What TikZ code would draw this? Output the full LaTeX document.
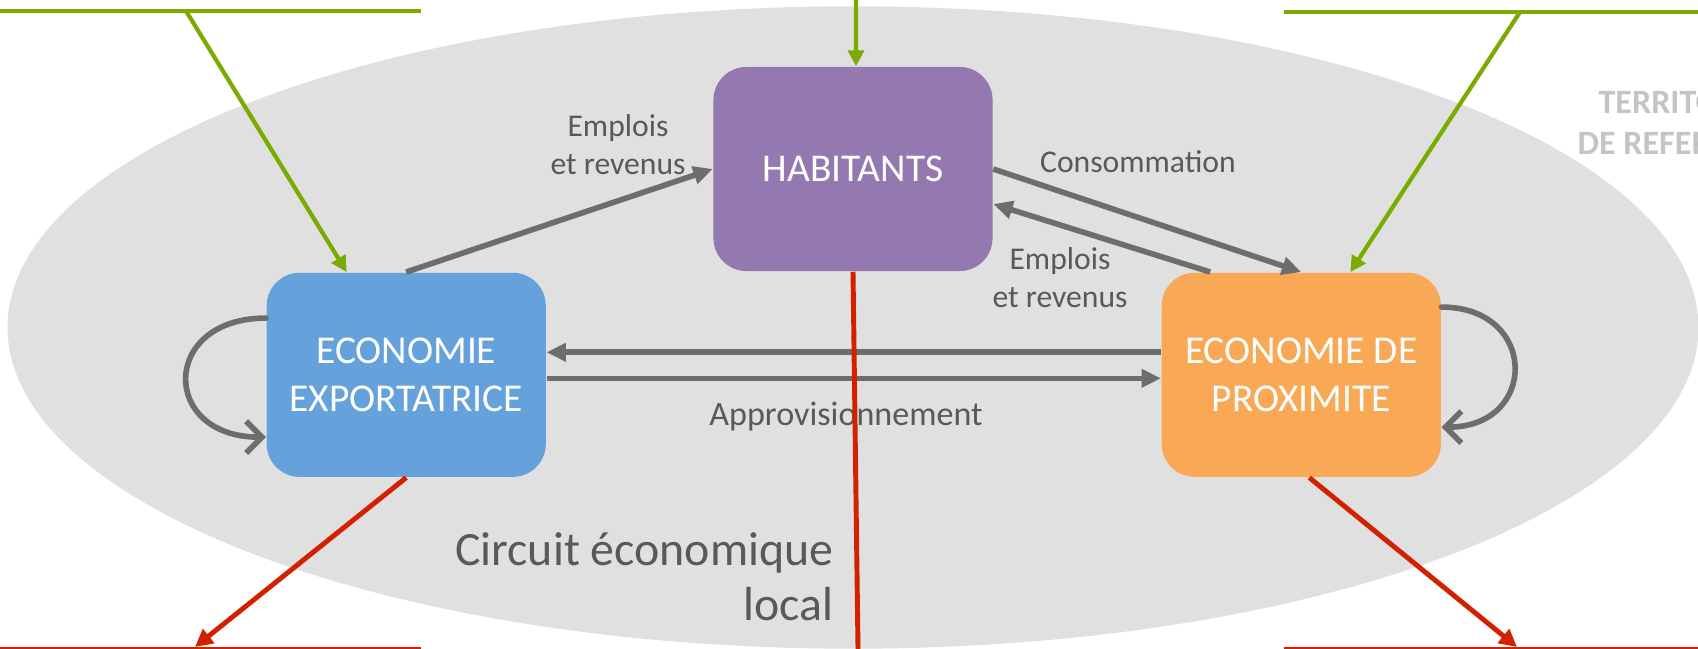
\documentclass[tikz,border=0pt]{standalone}
\usepackage{fontspec}
\setmainfont{Carlito}
\usetikzlibrary{arrows.meta,positioning}
\definecolor{cgray}{HTML}{6D6D6D}
\definecolor{ctext}{HTML}{595959}
\definecolor{cgreen}{HTML}{7AAB00}
\definecolor{cred}{HTML}{D22000}
\definecolor{cpurple}{HTML}{9479B0}
\definecolor{cblue}{HTML}{65A2DC}
\definecolor{corange}{HTML}{F9A856}
\definecolor{cbg}{HTML}{E0E0E0}
\definecolor{cterr}{HTML}{C4C4C4}

\begin{document}
\begin{tikzpicture}[x=0.01cm,y=-0.01cm,on grid,
  box/.style={rounded corners=0.33cm,minimum width=2.79cm,minimum height=2.04cm,
    text=white,align=center,font=\fontsize{11.2}{13.4}\selectfont},
  flow/.style={-{Triangle[length=5.5pt,width=5pt]},cgray,line width=1.6pt},
  loop flow/.style={-{Straight Barb[length=4.5pt,width=9pt]},cgray,line width=1.6pt,line cap=round},
  flow text/.style={text=ctext,align=center,font=\fontsize{9}{10.8}\selectfont},
  in flow/.style={-{Triangle[length=4.5pt,width=4.5pt]},cgreen,line width=1.2pt},
  out flow/.style={-{Triangle[length=5pt,width=5pt]},cred,line width=1.4pt}]
  \useasboundingbox (0,0) rectangle (1698,649);
  \clip (0,0) rectangle (1698,649);

  % territoire
  \fill[cbg] (853,327.5) ellipse [x radius=8.45cm, y radius=3.21cm];
  \node[text=cterr,align=center,font=\fontsize{9.7}{11.7}\selectfont\bfseries] (terr) at (1681,123) {TERRITOIRE\\DE REFERENCE};

  % acteurs
  \node[box,fill=cpurple] (hab) at (853,169) {HABITANTS};
  \node[box,fill=cblue,below left=2.057cm and 4.465cm of hab] (exp) {ECONOMIE\\EXPORTATRICE};
  \node[box,fill=corange,below right=2.057cm and 4.48cm of hab] (prox) {ECONOMIE DE\\PROXIMITE};

  \node[flow text] (t1) at (618,145) {Emplois\\et revenus};
  \node[flow text] (t2) at (1138,162) {Consommation};
  \node[flow text] (t3) at (1060,278) {Emplois\\et revenus};
  \node[flow text,font=\fontsize{9.7}{11.6}\selectfont] (t4) at (846,417) {Approvisionnement};
  \node[text=ctext,align=right,anchor=east,inner sep=0pt,font=\fontsize{13.6}{15.6}\selectfont] (circ) at (834,577) {Circuit économique\\local};

  % flux internes
  \path[flow]
    (exp.north) edge (hab.west)
    (hab.east) edge (prox.north)
    ([xshift=-0.91cm]prox.north) edge ([yshift=-0.35cm]hab.east)
    ([yshift=0.225cm]prox.west) edge ([yshift=0.225cm]exp.east)
    ([yshift=-0.035cm]exp.east) edge ([yshift=-0.035cm]prox.west);
  \draw[loop flow] ([yshift=0.567cm]exp.west) .. controls +(-106,0) and +(-106,0) .. ([yshift=-0.623cm]exp.west);
  \draw[loop flow] ([yshift=0.677cm]prox.east) .. controls +(97,0) and +(97,0) .. ([yshift=-0.523cm]prox.east);

  % entrees
  \coordinate (gl1) at (0,11);
  \coordinate (gl2) at (421,11);
  \coordinate (gl) at (186,11);
  \coordinate (gc) at (856,0);
  \coordinate (gr1) at (1284,12);
  \coordinate (gr2) at (1698,12);
  \coordinate (gr) at (1520,12);
  \draw[cgreen,line width=1.3pt] (gl1) -- (gl2);
  \draw[cgreen,line width=1.3pt] (gr1) -- (gr2);
  \draw[in flow] (gl) -- ([xshift=-0.595cm]exp.north);
  \draw[in flow] (gc) -- ([xshift=0.03cm]hab.north);
  \draw[in flow] (gr) -- ([xshift=0.49cm]prox.north);

  % sorties
  \coordinate (rl1) at (0,649);
  \coordinate (rl2) at (421,649);
  \coordinate (rl) at (195,647);
  \coordinate (rc) at (858,649);
  \coordinate (rr1) at (1284,649);
  \coordinate (rr2) at (1698,649);
  \coordinate (rr) at (1517,647);
  \draw[cred,line width=1.4pt] (rl1) -- (rl2);
  \draw[cred,line width=1.4pt] (rr1) -- (rr2);
  \draw[out flow] (exp.south) -- (rl);
  \draw[cred,line width=1.4pt] (hab.south) -- (rc);
  \draw[out flow] ([xshift=0.08cm]prox.south) -- (rr);
\end{tikzpicture}
\end{document}
